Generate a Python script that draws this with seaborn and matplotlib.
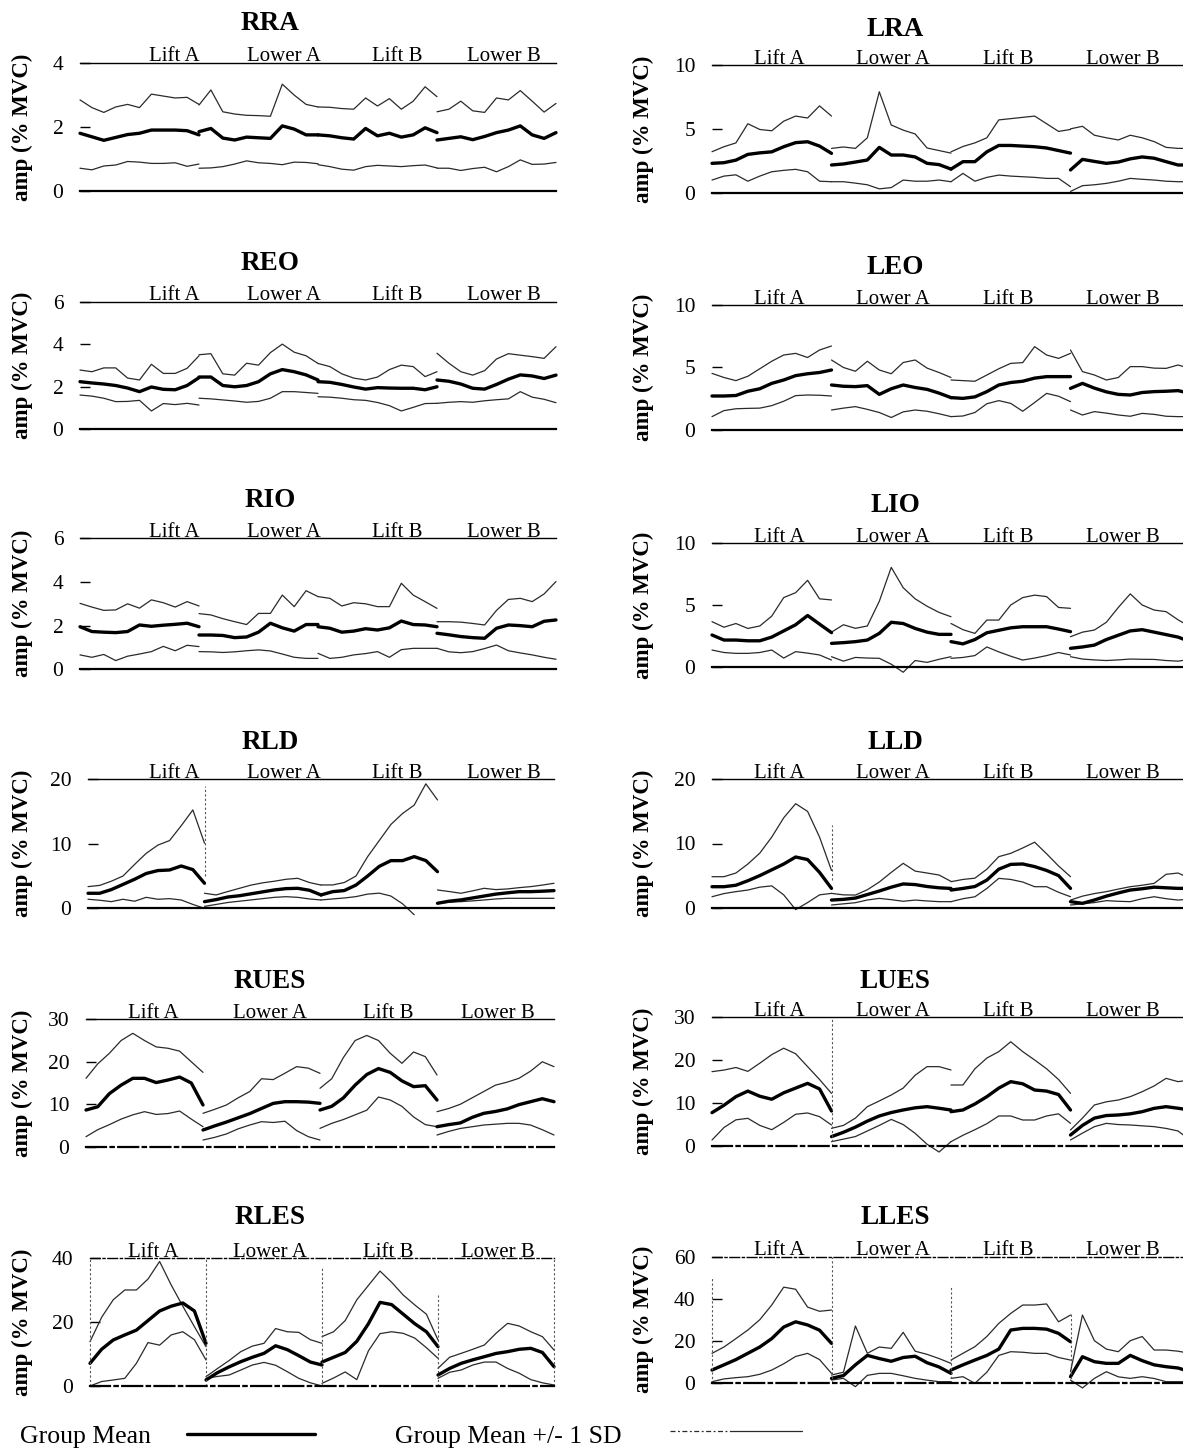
import numpy as np
import pandas as pd
import matplotlib
matplotlib.use("Agg")
import matplotlib.pyplot as plt
import matplotlib.transforms as mtransforms
from matplotlib.lines import Line2D
import seaborn as sns

# ---------------------------------------------------------------------------
# Data: EMG amplitude (% MVC), four phases per trace, 11 samples per phase
# ---------------------------------------------------------------------------
muscles = ["RRA", "LRA", "REO", "LEO", "RIO", "LIO",
           "RLD", "LLD", "RUES", "LUES", "RLES", "LLES"]
phases = ["Lift A", "Lower A", "Lift B", "Lower B"]
y_max = [4, 10, 6, 10, 6, 10, 20, 20, 30, 30, 40, 60]
y_ticks = [[0, 2, 4], [0, 5, 10], [0, 2, 4, 6], [0, 5, 10], [0, 2, 4, 6], [0, 5, 10],
           [0, 10, 20], [0, 10, 20], [0, 10, 20, 30], [0, 10, 20, 30], [0, 20, 40],
           [0, 20, 40, 60]]

rra_mean = [1.80, 1.69, 1.58, 1.67, 1.76, 1.80, 1.90, 1.90, 1.90, 1.88, 1.75,
            1.85, 1.95, 1.65, 1.59, 1.68, 1.66, 1.64, 2.03, 1.93, 1.75, 1.75,
            1.75, 1.72, 1.66, 1.62, 1.95, 1.72, 1.80, 1.68, 1.75, 1.97, 1.82,
            1.59, 1.64, 1.69, 1.60, 1.70, 1.82, 1.90, 2.03, 1.75, 1.64, 1.82]
rra_hi = [2.84, 2.60, 2.45, 2.62, 2.70, 2.60, 3.02, 2.96, 2.90, 2.92, 2.70,
          2.68, 3.15, 2.47, 2.40, 2.36, 2.35, 2.33, 3.33, 2.99, 2.70, 2.62,
          2.62, 2.61, 2.57, 2.55, 2.90, 2.65, 2.88, 2.55, 2.80, 3.25, 2.94,
          2.47, 2.55, 2.80, 2.50, 2.45, 2.90, 2.84, 3.13, 2.80, 2.46, 2.73]
rra_lo = [0.71, 0.66, 0.78, 0.81, 0.92, 0.90, 0.86, 0.86, 0.88, 0.77, 0.84,
          0.71, 0.72, 0.76, 0.84, 0.94, 0.88, 0.86, 0.82, 0.90, 0.89, 0.85,
          0.82, 0.76, 0.68, 0.65, 0.76, 0.80, 0.78, 0.76, 0.79, 0.81, 0.72,
          0.71, 0.71, 0.64, 0.70, 0.74, 0.60, 0.76, 0.97, 0.83, 0.84, 0.89]

lra_mean = [2.30, 2.35, 2.55, 3.00, 3.12, 3.20, 3.60, 3.92, 3.99, 3.65, 3.08,
            2.17, 2.25, 2.40, 2.56, 3.55, 2.95, 2.95, 2.80, 2.30, 2.20, 1.85,
            1.85, 2.43, 2.43, 3.20, 3.70, 3.70, 3.65, 3.60, 3.50, 3.30, 3.10,
            1.78, 2.61, 2.45, 2.30, 2.40, 2.65, 2.80, 2.70, 2.43, 2.17, 2.17]
lra_hi = [3.21, 3.60, 3.90, 5.40, 4.95, 4.85, 5.60, 6.00, 5.85, 6.80, 6.00,
          3.47, 3.58, 3.47, 4.30, 7.90, 5.30, 4.90, 4.60, 3.50, 3.30, 3.10,
          3.20, 3.62, 3.90, 4.30, 5.70, 5.80, 5.90, 6.00, 5.40, 4.80, 4.95,
          5.00, 5.20, 4.50, 4.30, 4.13, 4.50, 4.30, 4.00, 3.55, 3.47, 3.47]
lra_lo = [0.99, 1.30, 1.40, 0.90, 1.30, 1.64, 1.75, 1.83, 1.64, 0.90, 0.86,
          0.86, 0.86, 0.75, 0.62, 0.30, 0.40, 0.99, 0.90, 0.90, 0.99, 0.86,
          0.86, 1.51, 0.90, 1.20, 1.38, 1.30, 1.25, 1.20, 1.12, 1.12, 0.47,
          0.10, 0.55, 0.62, 0.73, 0.90, 1.12, 1.05, 0.99, 0.90, 0.86, 0.86]

reo_mean = [2.23, 2.17, 2.12, 2.05, 1.93, 1.76, 1.98, 1.87, 1.85, 2.05, 2.42,
            2.45, 2.45, 2.05, 1.99, 2.05, 2.23, 2.60, 2.80, 2.70, 2.55, 2.31,
            2.23, 2.20, 2.10, 1.98, 1.88, 1.95, 1.93, 1.92, 1.92, 1.85, 1.99,
            2.31, 2.25, 2.12, 1.92, 1.88, 2.10, 2.35, 2.55, 2.50, 2.38, 2.54]
reo_hi = [2.78, 2.70, 2.88, 2.88, 2.40, 2.31, 3.05, 2.62, 2.62, 2.86, 3.45,
          3.50, 3.55, 2.60, 2.54, 3.10, 3.01, 3.60, 4.00, 3.62, 3.45, 3.09,
          3.09, 2.94, 2.60, 2.40, 2.31, 2.45, 2.80, 3.01, 2.94, 2.47, 2.70,
          3.57, 3.10, 2.70, 2.54, 2.75, 3.30, 3.55, 3.48, 3.41, 3.33, 3.88]
reo_lo = [1.60, 1.55, 1.45, 1.29, 1.30, 1.35, 0.85, 1.20, 1.15, 1.21, 1.13,
          1.45, 1.42, 1.37, 1.32, 1.26, 1.30, 1.45, 1.76, 1.76, 1.72, 1.68,
          1.52, 1.50, 1.45, 1.38, 1.35, 1.25, 1.10, 0.85, 1.02, 1.20, 1.21,
          1.21, 1.26, 1.29, 1.26, 1.33, 1.38, 1.42, 1.76, 1.50, 1.40, 1.24]

leo_mean = [2.72, 2.72, 2.76, 3.10, 3.30, 3.73, 4.00, 4.35, 4.50, 4.60, 4.80,
            3.60, 3.50, 3.47, 3.55, 2.85, 3.30, 3.60, 3.40, 3.25, 2.95, 2.59,
            2.59, 2.53, 2.65, 3.07, 3.60, 3.80, 3.90, 4.15, 4.27, 4.27, 4.27,
            3.33, 3.73, 3.35, 3.05, 2.85, 2.80, 3.00, 3.07, 3.10, 3.15, 2.93]
leo_hi = [4.53, 4.20, 3.95, 4.30, 4.90, 5.50, 6.00, 6.13, 5.80, 6.40, 6.72,
          5.60, 5.00, 4.70, 5.50, 4.80, 4.50, 5.40, 5.60, 4.95, 4.60, 4.20,
          4.00, 3.95, 3.90, 4.40, 4.90, 5.33, 5.39, 6.67, 6.00, 5.73, 6.13,
          6.40, 4.67, 4.40, 4.00, 4.20, 5.07, 5.07, 4.95, 4.93, 5.20, 4.93]
leo_lo = [1.07, 1.55, 1.70, 1.73, 1.75, 1.95, 2.30, 2.75, 2.80, 2.78, 2.72,
          1.60, 1.75, 1.87, 1.65, 1.40, 1.00, 1.45, 1.60, 1.50, 1.30, 1.07,
          1.07, 1.12, 1.40, 2.10, 2.35, 2.13, 1.50, 2.20, 2.93, 2.70, 2.27,
          1.60, 1.20, 1.47, 1.35, 1.20, 1.10, 1.33, 1.25, 1.10, 1.07, 1.07]

rio_mean = [1.95, 1.73, 1.70, 1.68, 1.73, 2.03, 1.97, 2.02, 2.06, 2.11, 1.95,
            1.57, 1.57, 1.55, 1.45, 1.48, 1.70, 2.11, 1.90, 1.75, 2.05, 2.05,
            1.95, 1.88, 1.70, 1.75, 1.86, 1.80, 1.90, 2.21, 2.05, 2.03, 1.95,
            1.65, 1.58, 1.50, 1.45, 1.42, 1.88, 2.03, 2.00, 1.95, 2.20, 2.26]
rio_hi = [3.02, 2.85, 2.70, 2.72, 3.00, 2.80, 3.18, 3.05, 2.85, 3.10, 2.90,
          2.55, 2.49, 2.32, 2.18, 2.05, 2.56, 2.56, 3.40, 2.87, 3.60, 3.33,
          3.33, 3.25, 2.90, 3.05, 3.00, 2.87, 2.87, 3.94, 3.40, 3.10, 2.79,
          2.18, 2.18, 2.16, 2.10, 2.03, 2.70, 3.20, 3.25, 3.10, 3.45, 4.02]
rio_lo = [0.66, 0.55, 0.68, 0.40, 0.60, 0.70, 0.81, 1.05, 0.85, 1.10, 1.04,
          0.81, 0.80, 0.77, 0.80, 0.85, 0.89, 0.84, 0.70, 0.55, 0.50, 0.50,
          0.73, 0.50, 0.55, 0.66, 0.72, 0.81, 0.55, 0.90, 0.96, 0.96, 0.96,
          0.96, 0.80, 0.76, 0.81, 0.95, 1.11, 0.85, 0.75, 0.66, 0.55, 0.46]

lio_mean = [2.57, 2.16, 2.16, 2.10, 2.10, 2.40, 2.90, 3.40, 4.15, 3.45, 2.76,
            1.89, 1.95, 2.03, 2.16, 2.70, 3.60, 3.50, 3.10, 2.80, 2.62, 2.62,
            2.03, 1.85, 2.20, 2.75, 2.95, 3.15, 3.24, 3.24, 3.24, 3.05, 2.84,
            1.49, 1.60, 1.75, 2.20, 2.55, 2.90, 3.00, 2.80, 2.60, 2.40, 2.03]
lio_hi = [3.65, 3.20, 3.50, 3.10, 3.30, 4.10, 5.60, 6.00, 7.00, 5.50, 5.41,
          2.80, 3.40, 3.11, 3.30, 5.30, 8.05, 6.40, 5.50, 4.90, 4.40, 4.05,
          3.50, 3.00, 2.70, 3.78, 3.78, 5.00, 5.60, 5.80, 5.68, 4.80, 4.73,
          2.43, 2.80, 2.97, 3.60, 4.80, 5.90, 5.00, 4.59, 4.46, 3.80, 3.24]
lio_lo = [1.35, 1.15, 1.08, 1.08, 1.15, 1.35, 0.70, 1.22, 1.10, 0.95, 0.54,
          0.81, 0.45, 0.75, 0.70, 0.68, 0.20, -0.45, 0.50, 0.35, 0.60, 0.81,
          0.68, 0.75, 0.90, 1.60, 1.20, 0.85, 0.54, 0.70, 0.90, 1.15, 0.95,
          0.81, 0.62, 0.55, 0.50, 0.55, 0.62, 0.60, 0.59, 0.50, 0.45, 0.59]

rld_mean = [2.33, 2.33, 2.90, 3.70, 4.50, 5.40, 5.85, 5.94, 6.56, 6.00, 3.88,
            1.03, 1.35, 1.75, 1.95, 2.25, 2.55, 2.85, 3.05, 3.10, 2.80, 2.07,
            2.07, 2.58, 2.75, 3.60, 5.00, 6.50, 7.39, 7.39, 8.01, 7.40, 5.68,
            0.78, 1.10, 1.30, 1.60, 1.90, 2.20, 2.40, 2.58, 2.58, 2.65, 2.74]
rld_hi = [3.36, 3.55, 4.20, 5.00, 6.80, 8.53, 9.80, 10.50, 12.80, 15.25, 10.10,
          2.33, 2.07, 2.60, 3.10, 3.60, 3.95, 4.20, 4.50, 4.65, 4.00, 3.60,
          3.62, 3.62, 4.00, 5.00, 8.00, 10.50, 13.00, 14.70, 16.00, 19.30, 16.80,
          2.84, 2.60, 2.33, 2.70, 3.10, 2.90, 3.00, 3.20, 3.36, 3.60, 3.88]
rld_lo = [1.40, 1.25, 1.03, 1.40, 1.10, 1.70, 1.40, 1.50, 1.29, 0.60, 0.00,
          0.30, 0.60, 0.90, 1.10, 1.30, 1.50, 1.70, 1.80, 1.70, 1.45, 1.29,
          1.29, 1.45, 1.60, 1.81, 2.20, 2.35, 1.90, 0.70, -1.00, np.nan, np.nan,
          0.78, 0.95, 1.03, 1.15, 1.29, 1.45, 1.55, 1.55, 1.55, 1.55, 1.55]

lld_mean = [3.27, 3.27, 3.50, 4.20, 5.00, 5.90, 6.80, 7.90, 7.50, 5.50, 3.01,
            1.19, 1.30, 1.50, 2.05, 2.60, 3.20, 3.70, 3.60, 3.30, 3.10, 3.00,
            2.75, 3.00, 3.30, 4.30, 6.00, 6.75, 6.81, 6.40, 5.80, 5.00, 3.01,
            0.94, 0.68, 1.20, 1.80, 2.30, 2.75, 2.95, 3.20, 3.10, 3.01, 3.01]
lld_hi = [4.83, 4.83, 5.40, 6.80, 8.50, 11.00, 14.00, 16.20, 15.00, 11.00, 5.80,
          2.23, 2.00, 1.97, 2.80, 4.00, 5.50, 6.91, 5.70, 5.40, 5.09, 4.10,
          4.05, 4.40, 4.60, 6.00, 7.95, 8.47, 9.30, 10.20, 8.40, 6.50, 4.83,
          1.19, 1.80, 2.20, 2.50, 2.90, 3.27, 3.50, 3.79, 5.20, 5.40, 4.57]
lld_lo = [1.71, 2.20, 2.50, 2.75, 3.20, 3.40, 2.00, -0.30, 0.80, 2.00, 2.23,
          0.42, 0.60, 0.78, 1.20, 1.45, 1.25, 1.00, 1.19, 1.05, 0.94, 0.94,
          0.94, 1.40, 1.70, 3.00, 4.57, 4.40, 4.00, 3.27, 3.27, 2.40, 1.71,
          0.42, 0.60, 0.80, 1.10, 1.00, 0.94, 1.40, 1.71, 1.40, 1.19, 1.35]

rues_mean = [8.64, 9.40, 12.50, 14.50, 16.10, 16.10, 15.10, 15.70, 16.40, 15.00, 9.82,
             3.93, 4.90, 5.80, 6.80, 7.80, 9.00, 10.20, 10.60, 10.60, 10.50, 10.21,
             8.64, 9.50, 11.50, 14.50, 17.00, 18.40, 17.50, 15.50, 14.14, 14.37, 11.00,
             4.71, 5.20, 5.60, 6.90, 7.86, 8.30, 8.90, 9.90, 10.60, 11.30, 10.60]
rues_hi = [16.10, 19.50, 22.00, 25.00, 26.70, 25.00, 23.50, 23.18, 22.50, 20.00, 17.50,
           7.86, 8.80, 9.82, 11.50, 13.00, 16.00, 15.80, 17.30, 18.85, 18.50, 17.28,
           13.75, 16.00, 21.00, 25.00, 26.20, 25.00, 22.00, 19.64, 22.30, 21.21, 16.89,
           8.25, 9.00, 10.00, 11.50, 13.00, 14.50, 15.20, 16.10, 17.80, 20.00, 18.85]
rues_lo = [2.36, 4.00, 5.20, 6.50, 7.50, 8.25, 7.60, 7.80, 8.40, 6.50, 4.71,
           1.57, 2.20, 3.00, 4.20, 5.11, 5.89, 5.70, 6.00, 3.80, 2.36, 1.57,
           4.32, 5.50, 6.40, 7.50, 8.60, 11.70, 11.00, 9.50, 7.00, 5.20, 4.71,
           2.75, 3.60, 4.30, 4.70, 5.11, 5.30, 5.50, 5.50, 5.10, 4.00, 2.75]

lues_mean = [7.77, 9.50, 11.50, 12.80, 11.60, 10.90, 12.40, 13.50, 14.60, 13.30, 8.16,
             2.18, 3.20, 4.40, 5.80, 7.00, 7.80, 8.40, 8.90, 9.17, 8.80, 8.39,
             8.00, 8.40, 9.80, 11.50, 13.50, 15.00, 14.50, 13.05, 12.80, 12.00, 8.39,
             2.56, 4.80, 6.50, 7.10, 7.23, 7.50, 8.00, 8.78, 9.17, 8.80, 8.39]
lues_hi = [17.33, 17.70, 18.30, 17.40, 19.30, 21.30, 22.80, 21.50, 18.50, 15.50, 12.27,
           4.12, 4.80, 6.50, 9.17, 10.50, 11.89, 13.50, 16.50, 18.50, 18.50, 17.72,
           14.22, 14.22, 18.00, 20.50, 22.00, 24.30, 22.00, 20.05, 18.00, 15.50, 12.27,
           3.73, 6.50, 9.56, 10.30, 10.72, 11.50, 12.66, 14.00, 15.77, 15.00, 15.38]
lues_lo = [1.40, 4.30, 6.10, 6.45, 4.80, 3.80, 5.50, 7.40, 7.70, 6.84, 4.90,
           1.01, 1.60, 2.20, 3.50, 4.80, 6.20, 5.00, 2.95, 0.40, -1.40, 1.01,
           1.01, 2.50, 3.80, 5.20, 7.00, 7.00, 6.06, 6.06, 7.00, 7.50, 5.28,
           1.40, 3.00, 4.50, 5.28, 5.00, 4.90, 4.70, 4.51, 4.10, 3.50, 1.40]

rles_mean = [7.10, 11.50, 14.41, 16.00, 17.50, 20.50, 23.50, 25.00, 26.00, 23.50, 13.37,
             1.88, 4.20, 6.00, 7.62, 9.00, 10.23, 12.60, 11.40, 9.50, 7.50, 6.58,
             7.50, 9.00, 10.50, 14.00, 19.50, 26.20, 25.50, 22.50, 19.50, 17.00, 12.32,
             3.45, 5.50, 7.10, 8.20, 9.19, 10.20, 10.76, 11.50, 11.80, 10.50, 6.06]
rles_hi = [13.89, 21.50, 27.00, 30.08, 30.08, 33.50, 39.00, 31.64, 25.00, 18.59, 12.32,
           2.92, 5.50, 8.00, 10.76, 12.50, 13.37, 18.00, 17.00, 16.80, 14.50, 13.37,
           15.46, 17.00, 20.50, 27.00, 31.50, 36.00, 32.50, 28.50, 25.38, 22.50, 14.41,
           5.54, 9.00, 10.23, 11.50, 12.85, 16.50, 19.63, 18.80, 17.00, 15.46, 11.28]
rles_lo = [0.00, 1.40, 1.88, 2.40, 7.10, 13.60, 12.80, 16.00, 17.00, 14.50, 8.15,
           2.40, 3.00, 3.45, 5.00, 6.58, 7.40, 6.50, 4.50, 2.40, 1.00, 0.00,
           0.84, 2.50, 4.40, 2.00, 11.00, 16.40, 17.00, 16.50, 15.00, 12.00, 8.67,
           2.40, 4.30, 5.01, 6.58, 7.50, 7.50, 5.50, 4.00, 2.00, 1.00, 0.31]

lles_mean = [6.03, 8.50, 11.00, 14.00, 17.00, 21.00, 26.50, 29.00, 27.50, 25.00, 18.73,
             2.06, 3.40, 8.50, 13.00, 11.50, 10.20, 12.00, 12.60, 9.50, 7.50, 4.44,
             6.03, 8.50, 10.79, 13.00, 16.00, 25.08, 25.87, 25.87, 25.50, 23.50, 19.52,
             2.86, 12.38, 10.00, 9.21, 9.21, 13.00, 10.50, 8.50, 7.62, 7.00, 5.24]
lles_hi = [13.97, 17.00, 21.00, 25.08, 30.00, 37.00, 45.50, 44.50, 36.00, 34.00, 34.60,
           3.65, 5.00, 27.00, 14.00, 17.00, 16.35, 24.00, 15.00, 13.50, 11.50, 9.21,
           10.79, 14.00, 17.14, 22.00, 28.25, 33.00, 36.98, 36.98, 37.50, 29.00, 32.22,
           5.24, 32.22, 20.00, 16.00, 14.76, 20.00, 22.00, 15.56, 15.56, 15.00, 13.97]
lles_lo = [0.48, 1.80, 2.40, 2.86, 4.00, 6.03, 9.00, 12.50, 13.97, 11.00, 4.44,
           1.27, 2.06, -1.90, 3.50, 4.44, 4.44, 3.30, 2.06, 1.20, 0.48, 0.48,
           2.06, 2.86, -0.30, 5.00, 13.00, 14.76, 14.50, 13.97, 13.97, 12.00, 10.79,
           1.27, -2.50, 2.06, 5.24, 2.80, 2.06, 2.86, 2.00, 0.48, 0.48, 0.48]

traces = {
    "RRA": (rra_mean, rra_hi, rra_lo), "LRA": (lra_mean, lra_hi, lra_lo),
    "REO": (reo_mean, reo_hi, reo_lo), "LEO": (leo_mean, leo_hi, leo_lo),
    "RIO": (rio_mean, rio_hi, rio_lo), "LIO": (lio_mean, lio_hi, lio_lo),
    "RLD": (rld_mean, rld_hi, rld_lo), "LLD": (lld_mean, lld_hi, lld_lo),
    "RUES": (rues_mean, rues_hi, rues_lo), "LUES": (lues_mean, lues_hi, lues_lo),
    "RLES": (rles_mean, rles_hi, rles_lo), "LLES": (lles_mean, lles_hi, lles_lo),
}

# faint vertical traces at phase boundaries: (muscle, boundary index, y from, y to)
boundary_traces = [
    ("RLES", 0, 0, 40), ("RLES", 1, 0, 40), ("RLES", 2, 0, 37), ("RLES", 3, 0, 28.5), ("RLES", 4, 0, 40),
    ("LLES", 0, 0, 50), ("LLES", 1, 0, 60), ("LLES", 2, 0, 45.7), ("LLES", 3, 0, 33),
    ("LUES", 1, 0, 30), ("RLD", 1, 5, 19), ("LLD", 1, 4.3, 12.9),
]

# ---------------------------------------------------------------------------
# Layout (figure pixels)
# ---------------------------------------------------------------------------
W, H = 1183, 1451
left_x = [(80, 556), (80, 556), (80, 556), (88, 554), (86, 554), (90, 554)]
right_x = (712, 1190)
left_y = [(62.7, 191), (301.7, 429), (538.3, 669.3), (779.3, 908.3), (1019.3, 1146.7), (1258.3, 1386)]
right_y = [(65, 192.7), (305, 430), (543.3, 666.7), (779.3, 907.7), (1017.3, 1146), (1256.7, 1382.7)]
title_y_left = [24, 263, 501, 742, 981, 1218]
title_y_right = [29, 267, 506, 742, 981, 1218]
phase_x_left = [[174, 284, 397, 504]] * 4 + [[153, 270, 388, 498]] * 2
phase_x_right = [779, 893, 1008, 1123]

sns.set_theme(style="white", rc={
    "text.color": "black", "axes.edgecolor": "black", "axes.labelcolor": "black",
    "xtick.color": "black", "ytick.color": "black",
})
plt.rcParams["font.family"] = ["Liberation Serif", "DejaVu Serif"]

fig = plt.figure(figsize=(W / 100, H / 100), dpi=100)
fig.patch.set_facecolor("white")


def long_frame(name):
    mean, hi, lo = traces[name]
    rows = []
    for stat, vals in (("mean", mean), ("hi", hi), ("lo", lo)):
        arr = np.asarray(vals, dtype=float).reshape(4, 11)
        for k in range(4):
            for i in range(11):
                rows.append({"stat": stat, "seg": k, "unit": f"{stat}{k}",
                             "x": k + i / 10.0, "value": arr[k, i]})
    return pd.DataFrame(rows).dropna()


for idx, name in enumerate(muscles):
    row, col = divmod(idx, 2)
    if col == 0:
        x0, x1 = left_x[row]
        yt, yb = left_y[row]
        px_phase = phase_x_left[row]
        title_x, title_y = 270, title_y_left[row]
        ylabel_x = 22
    else:
        x0, x1 = right_x
        yt, yb = right_y[row]
        px_phase = phase_x_right
        title_x, title_y = 895, title_y_right[row]
        ylabel_x = 643

    ax = fig.add_axes([x0 / W, 1 - yb / H, (x1 - x0) / W, (yb - yt) / H])
    ax.set_facecolor("none")
    df = long_frame(name)

    sns.lineplot(data=df[df.stat != "mean"], x="x", y="value", units="unit",
                 estimator=None, sort=False, color="#2a2a2a", linewidth=0.9,
                 ax=ax, legend=False, clip_on=False)
    sns.lineplot(data=df[df.stat == "mean"], x="x", y="value", units="unit",
                 estimator=None, sort=False, color="black", linewidth=2.4,
                 ax=ax, legend=False, clip_on=False)

    for m, b, ya, yb2 in boundary_traces:
        if m == name:
            ax.vlines(b, ya, yb2, colors="#555555", linestyles=(0, (2, 2)),
                      linewidth=0.8, clip_on=False)

    ax.set_xlim(0, 4)
    ax.set_ylim(0, y_max[idx])
    ax.set_xticks([])
    ax.set_yticks(y_ticks[idx])
    ax.set_yticklabels([str(t) for t in y_ticks[idx]])
    ax.set_xlabel("")
    ax.set_ylabel("")
    ax.tick_params(axis="y", left=True, direction="in", length=7, width=1,
                   pad=12, labelsize=15.5)

    for side in ("left", "right"):
        ax.spines[side].set_visible(False)
    ax.spines["top"].set_linewidth(1.0)
    ax.spines["bottom"].set_linewidth(1.6)
    if row == 5:
        ax.spines["top"].set_linestyle((0, (7, 2, 1.5, 2)))
    if row >= 4:
        ax.spines["bottom"].set_linestyle((0, (9, 2, 1.5, 2)))

    # phase labels sitting on the top rule
    trans = mtransforms.blended_transform_factory(fig.transFigure, ax.transAxes)
    hpx = yb - yt
    for ph, px in zip(phases, px_phase):
        ax.text(px / W, 1 + 1.5 / hpx, ph, transform=trans, ha="center",
                va="baseline", fontsize=15)

    fig.text(title_x / W, 1 - title_y / H, name, ha="center", va="center",
             fontsize=19.5, fontweight="bold")
    fig.text(ylabel_x / W, 1 - ((yt + yb) / 2) / H, "amp (% MVC)", rotation=90,
             ha="center", va="center", fontsize=16.5, fontweight="bold")

# legend along the bottom
fig.text(20 / W, 1 - 1443 / H, "Group Mean", ha="left", va="baseline", fontsize=18.5)
fig.add_artist(Line2D([187 / W, 315 / W], [1 - 1434 / H] * 2, transform=fig.transFigure,
                      color="black", linewidth=2.4))
fig.text(395 / W, 1 - 1443 / H, "Group Mean +/- 1 SD", ha="left", va="baseline", fontsize=18.5)
fig.add_artist(Line2D([670 / W, 730 / W], [1 - 1431 / H] * 2, transform=fig.transFigure,
                      color="#2a2a2a", linewidth=0.9, linestyle=(0, (4, 2, 1.5, 2))))
fig.add_artist(Line2D([730 / W, 802 / W], [1 - 1431 / H] * 2, transform=fig.transFigure,
                      color="#2a2a2a", linewidth=0.9))

fig.savefig("out.png", dpi=100, facecolor="white")
